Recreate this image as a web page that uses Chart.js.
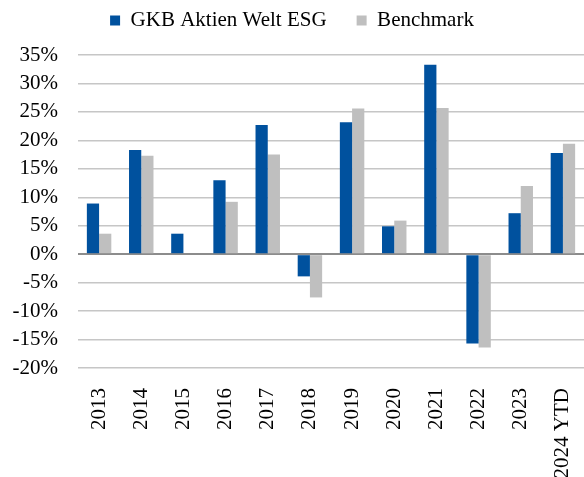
<!DOCTYPE html>
<html>
<head>
<meta charset="utf-8">
<script src="https://cdn.jsdelivr.net/npm/chart.js@4"></script>
<style>
  html, body { margin: 0; padding: 0; background: #fff; overflow: hidden; }
</style>
</head>
<body>
<canvas id="perfChart" width="584" height="477"></canvas>
<script>
const years = ["2013", "2014", "2015", "2016", "2017", "2018", "2019", "2020", "2021", "2022", "2023", "2024 YTD"];
const fund = [8.9, 18.3, 3.6, 13.0, 22.7, -3.9, 23.2, 4.9, 33.3, -15.7, 7.2, 17.8];
const benchmark = [3.6, 17.3, null, 9.2, 17.5, -7.6, 25.6, 5.9, 25.7, -16.4, 12.0, 19.4];

const font = { family: "'Liberation Serif', 'DejaVu Serif', serif", size: 21 };

// make the legend block end exactly where the plot starts
const legendHeight = {
  id: "legendHeight",
  beforeInit(chart) {
    const fit = chart.legend.fit;
    chart.legend.fit = function () {
      fit.bind(chart.legend)();
      this.height = 75;
    };
  }
};

const ctx = document.getElementById("perfChart").getContext("2d");

new Chart(ctx, {
  type: "bar",
  data: {
    labels: years,
    datasets: [
      { label: "GKB Aktien Welt ESG", data: fund, backgroundColor: "#00519e" },
      { label: "Benchmark", data: benchmark, backgroundColor: "#bfbfbf" }
    ]
  },
  options: {
    responsive: false,
    animation: false,
    layout: { padding: { top: -20, left: 0, right: 0, bottom: 0 } },
    datasets: {
      bar: { categoryPercentage: 0.58, barPercentage: 1.0 }
    },
    plugins: {
      legend: {
        position: "top",
        labels: {
          font: font,
          color: "#000",
          boxWidth: 10,
          boxHeight: 10,
          padding: 30
        }
      },
      tooltip: { enabled: false }
    },
    scales: {
      x: {
        grid: { display: false },
        border: { display: false },
        ticks: {
          font: font,
          color: "#000",
          minRotation: 90,
          maxRotation: 90,
          padding: 12,
          autoSkip: false
        },
        afterFit(scale) {
          scale.height = 109;
          scale.paddingLeft = 0;
          scale.paddingRight = 0;
        }
      },
      y: {
        min: -20,
        max: 35,
        border: { display: false },
        grid: {
          drawTicks: false,
          lineWidth: ctx => (ctx.tick && ctx.tick.value === 0 ? 2 : 1.5),
          color: ctx => (ctx.tick && ctx.tick.value === 0 ? "#8c8c8c" : "#c6c6c6")
        },
        ticks: {
          font: font,
          color: "#000",
          stepSize: 5,
          padding: 20,
          callback: v => v + "%"
        },
        afterFit(scale) {
          scale.width = 78;
          scale.paddingTop = 0;
          scale.paddingBottom = 0;
        }
      }
    }
  },
  plugins: [legendHeight]
});
</script>
</body>
</html>
